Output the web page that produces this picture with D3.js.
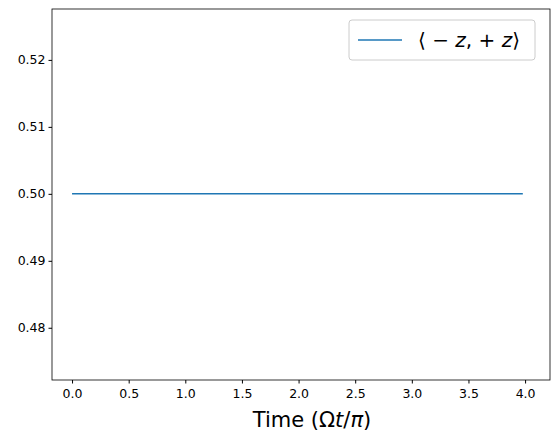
<!DOCTYPE html>
<html><head><meta charset="utf-8">
<script src="https://cdn.jsdelivr.net/npm/d3@7"></script>
<style>body{margin:0;background:#fff}text{font-family:"DejaVu Sans",sans-serif}</style>
</head><body>
<svg id="c" width="556" height="443"></svg>
<script>
const times = [0, 0.5, 1, 1.5, 2, 2.5, 3, 3.5, 3.98];
const values = [0.5, 0.5, 0.5, 0.5, 0.5, 0.5, 0.5, 0.5, 0.5];
const xTicks = [0, 0.5, 1, 1.5, 2, 2.5, 3, 3.5, 4];
const yTicks = [0.48, 0.49, 0.50, 0.51, 0.52];

const svg = d3.select('#c');
const L = 52, R = 550, T = 9, B = 380;
const x = d3.scaleLinear().domain([-0.177, 4.22]).range([L, R]);
const y = d3.scaleLinear().domain([0.4722, 0.5276]).range([B, T]);

svg.append('g').attr('transform', `translate(0,${B})`)
    .call(d3.axisBottom(x).tickValues(xTicks).tickFormat(d3.format('.1f')).tickSize(3.5).tickSizeOuter(0))
    .call(g => g.attr('font-size', 12.5).attr('font-family', 'DejaVu Sans'))
    .call(g => g.selectAll('text').attr('fill', '#000').attr('dy', '0.9em'));
svg.append('g').attr('transform', `translate(${L},0)`)
    .call(d3.axisLeft(y).tickValues(yTicks).tickFormat(d3.format('.2f')).tickSize(3.5).tickSizeOuter(0))
    .call(g => g.attr('font-size', 12.5).attr('font-family', 'DejaVu Sans'))
    .call(g => g.selectAll('text').attr('fill', '#000'));
svg.selectAll('.domain').remove();
svg.append('rect').attr('x', L).attr('y', T).attr('width', R - L).attr('height', B - T)
    .attr('fill', 'none').attr('stroke', '#000').attr('stroke-width', 0.8);

svg.append('path').datum(times.map((t, i) => [t, values[i]]))
    .attr('d', d3.line().x(d => x(d[0])).y(d => y(d[1])))
    .attr('fill', 'none').attr('stroke', '#1f77b4').attr('stroke-width', 1.5);

// legend
svg.append('rect').attr('x', 349).attr('y', 20).attr('width', 186).attr('height', 40).attr('rx', 3)
    .attr('fill', '#fff').attr('stroke', '#ccc');
svg.append('line').attr('x1', 358).attr('x2', 402).attr('y1', 40).attr('y2', 40)
    .attr('stroke', '#1f77b4').attr('stroke-width', 1.5);
const lt = svg.append('text').attr('x', 418).attr('y', 47).attr('font-size', 20);
lt.append('tspan').text('⟨ − ');
lt.append('tspan').attr('font-style', 'italic').text('z');
lt.append('tspan').text(',  + ');
lt.append('tspan').attr('font-style', 'italic').text('z');
lt.append('tspan').text('⟩');

const xl = svg.append('text').attr('x', 312).attr('y', 427).attr('text-anchor', 'middle').attr('font-size', 21);
xl.append('tspan').text('Time (Ω');
xl.append('tspan').attr('font-style', 'italic').text('t');
xl.append('tspan').text('/');
xl.append('tspan').attr('font-style', 'italic').text('π');
xl.append('tspan').text(')');
</script>
</body></html>
